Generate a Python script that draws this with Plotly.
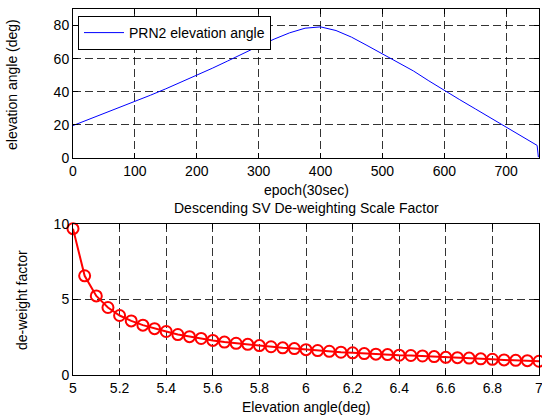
import plotly.graph_objects as go

# --- data ---
epoch = [0, 25, 50, 75, 100, 125, 150, 175, 200, 225, 250, 275, 300, 325, 350,
         375, 395, 400, 425, 450, 475, 500, 525, 550, 575, 600, 625, 650, 675,
         700, 725, 750, 752]
elev = [19.6, 23.2, 26.8, 30.4, 34.1, 37.9, 41.8, 45.8, 49.8, 54.2, 58.6, 63.2,
        67.6, 71.8, 75.6, 78.4, 79.3, 79.2, 77.0, 73.0, 68.0, 62.8, 57.6, 52.6,
        46.6, 40.7, 35.2, 29.7, 24.2, 18.8, 13.2, 7.6, 0.5]

elev_angle = [round(5 + 0.05 * i, 2) for i in range(41)]
deweight = [9.69, 6.57, 5.24, 4.47, 3.94, 3.58, 3.30, 3.07, 2.88, 2.68, 2.54,
            2.42, 2.29, 2.18, 2.10, 2.03, 1.95, 1.87, 1.80, 1.75, 1.68, 1.62,
            1.57, 1.51, 1.47, 1.42, 1.38, 1.35, 1.31, 1.29, 1.26, 1.22, 1.17,
            1.15, 1.12, 1.07, 1.04, 1.00, 0.97, 0.95, 0.91]

top_xticks = [0, 100, 200, 300, 400, 500, 600, 700]
top_yticks = [0, 20, 40, 60, 80]
bot_xticks = [5, 5.2, 5.4, 5.6, 5.8, 6, 6.2, 6.4, 6.6, 6.8, 7]
bot_xlabels = ["5", "5.2", "5.4", "5.6", "5.8", "6", "6.2", "6.4", "6.6", "6.8", "7"]
bot_yticks = [0, 5, 10]

W, H = 542, 417
L, R, T, B = 73, 3, 9, 42
PH = H - T - B
FONT = "Liberation Sans, Arial, sans-serif"
FS = 14


def py(ypix):
    """pixel row -> fraction of plot area (from bottom)"""
    return (H - B - ypix) / PH


def ppx(xpix):
    return (xpix - L) / (W - L - R)


fig = go.Figure()
fig.add_trace(go.Scatter(x=epoch, y=elev, mode="lines", name="PRN2 elevation angle",
                         line=dict(color="rgb(0,0,255)", width=1),
                         xaxis="x", yaxis="y"))
fig.add_trace(go.Scatter(x=elev_angle, y=deweight, mode="lines+markers",
                         showlegend=False,
                         line=dict(color="rgb(255,0,0)", width=2),
                         marker=dict(symbol="circle-open", size=11, color="rgb(255,0,0)",
                                     line=dict(width=2, color="rgb(255,0,0)")),
                         xaxis="x2", yaxis="y2", cliponaxis=False))

axcommon = dict(showline=True, linecolor="black", linewidth=1, mirror="ticks",
                ticks="inside", ticklen=5, tickcolor="black",
                showgrid=True, gridcolor="rgba(0,0,0,0.8)", griddash="8px,4px",
                gridwidth=1, zeroline=False, automargin=False,
                ticklabeloverflow="allow",
                tickfont=dict(family=FONT, size=FS, color="black"))

fig.update_layout(
    width=W, height=H,
    margin=dict(l=L, r=R, t=T, b=B),
    paper_bgcolor="white", plot_bgcolor="white",
    font=dict(family=FONT, size=FS, color="black"),
    xaxis=dict(domain=[0, 1], anchor="y", range=[0, 753], tickvals=top_xticks,
               **axcommon),
    yaxis=dict(domain=[py(158), py(9)], anchor="x", range=[0, 90],
               tickvals=top_yticks, **axcommon),
    xaxis2=dict(domain=[0, 1], anchor="y2", range=[5, 7], tickvals=bot_xticks,
                ticktext=bot_xlabels, **axcommon),
    yaxis2=dict(domain=[0, py(224)], anchor="x2", range=[0, 10],
                tickvals=bot_yticks, **axcommon),
    legend=dict(x=ppx(78), y=py(16), xanchor="left", yanchor="top",
                bgcolor="white", bordercolor="black", borderwidth=1,
                font=dict(family=FONT, size=FS, color="black"),
                itemwidth=40, tracegroupgap=0),
    annotations=[
        dict(text="epoch(30sec)", x=0.5, y=py(190), xref="paper", yref="paper",
             xanchor="center", yanchor="middle", showarrow=False),
        dict(text="Descending SV De-weighting Scale Factor", x=0.5, y=py(208),
             xref="paper", yref="paper", xanchor="center", yanchor="middle",
             showarrow=False),
        dict(text="Elevation angle(deg)", x=0.5, y=py(407), xref="paper", yref="paper",
             xanchor="center", yanchor="middle", showarrow=False),
        dict(text="elevation angle (deg)", x=ppx(12), y=py(84), xref="paper",
             yref="paper", xanchor="center", yanchor="middle", textangle=-90,
             showarrow=False),
        dict(text="de-weight factor", x=ppx(22), y=py(300), xref="paper",
             yref="paper", xanchor="center", yanchor="middle", textangle=-90,
             showarrow=False),
    ],
)

fig.write_html("out.html",
               config={"displayModeBar": False},
               post_script="document.body.style.margin='0';"
                           "document.body.style.overflow='hidden';")
